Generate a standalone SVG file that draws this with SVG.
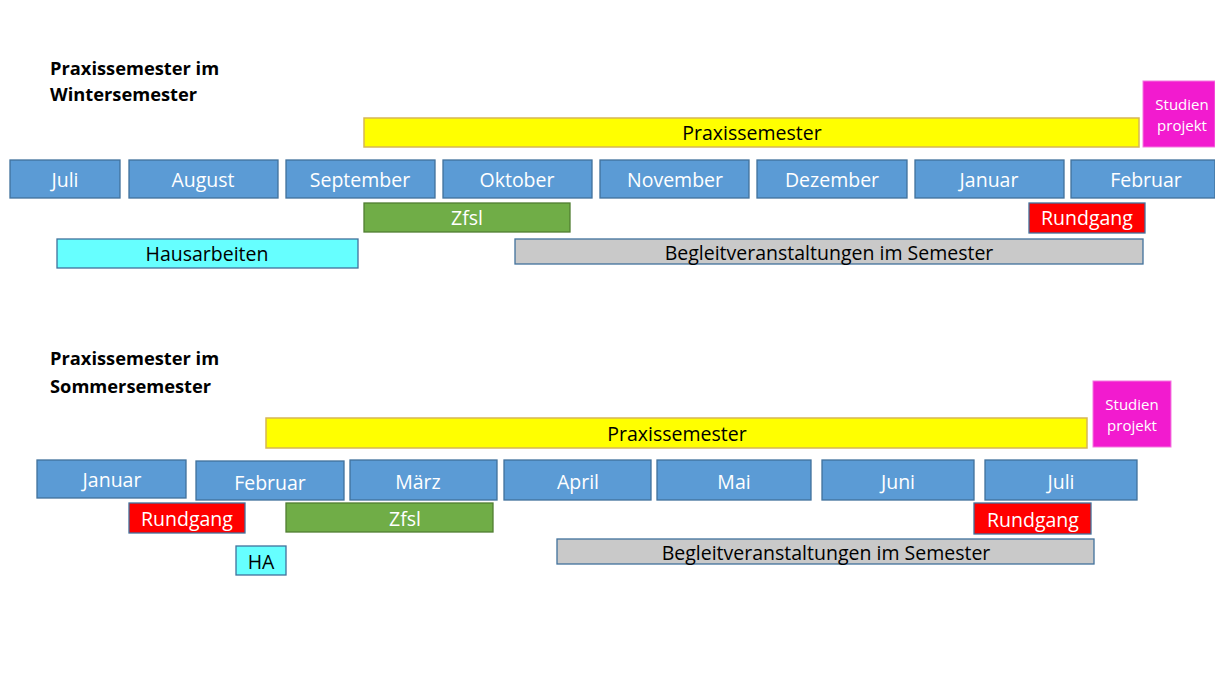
<svg xmlns="http://www.w3.org/2000/svg" width="1215" height="686" viewBox="0 0 1215 686">
<style>
text{font-family:"Open Sans","Liberation Sans",sans-serif;text-anchor:middle}
.t{font-weight:bold;font-size:18.3px;text-anchor:start;fill:#000}
.m rect{fill:#5B9BD5;stroke:#41719C;stroke-width:1.3}
.m text{fill:#fff;font-size:19.5px}
.y rect{fill:#FFFF00;stroke:#D6B656;stroke-width:1.5}
.y text{fill:#000;font-size:19.5px}
.g rect{fill:#70AD47;stroke:#507E32;stroke-width:1.3}
.g text{fill:#fff;font-size:19.5px}
.r rect{fill:#FF0000;stroke:#41719C;stroke-width:1.3}
.r text{fill:#fff;font-size:19.5px}
.c rect{fill:#66FFFF;stroke:#41719C;stroke-width:1.3}
.c text{fill:#000;font-size:19.5px}
.s rect{fill:#C9C9C9;stroke:#41719C;stroke-width:1.3}
.s text{fill:#000;font-size:19.5px}
.p rect{fill:#F21BCF;stroke:#F47ADF;stroke-width:1}
.p text{fill:#fff;font-size:15px}
</style>
<rect width="1215" height="686" fill="#fff"/>
<g id="title-winter"><text class="t" x="50" y="75">Praxissemester im</text><text class="t" x="50" y="101">Wintersemester</text></g>
<g id="w-praxis" class="y"><rect x="364" y="118" width="775" height="29"/><text x="752" y="140">Praxissemester</text></g>
<g id="w-studien" class="p"><rect x="1143" y="81" width="72" height="66"/><text x="1182" y="110">Studien</text><text x="1182" y="131">projekt</text></g>
<g id="w-juli" class="m"><rect x="10" y="160" width="110" height="38"/><text x="65" y="187">Juli</text></g>
<g id="w-august" class="m"><rect x="129" y="160" width="149" height="38"/><text x="203" y="187">August</text></g>
<g id="w-september" class="m"><rect x="286" y="160" width="149" height="38"/><text x="360" y="187">September</text></g>
<g id="w-oktober" class="m"><rect x="443" y="160" width="149" height="38"/><text x="517" y="187">Oktober</text></g>
<g id="w-november" class="m"><rect x="600" y="160" width="149" height="38"/><text x="675" y="187">November</text></g>
<g id="w-dezember" class="m"><rect x="757" y="160" width="150" height="38"/><text x="832" y="187">Dezember</text></g>
<g id="w-januar" class="m"><rect x="915" y="160" width="149" height="38"/><text x="989" y="187">Januar</text></g>
<g id="w-februar" class="m"><rect x="1071" y="160" width="144" height="38"/><text x="1146" y="187">Februar</text></g>
<g id="w-zfsl" class="g"><rect x="364" y="203" width="206" height="29"/><text x="467" y="225">Zfsl</text></g>
<g id="w-rundgang" class="r"><rect x="1029" y="203" width="116" height="30"/><text x="1087" y="225">Rundgang</text></g>
<g id="w-hausarbeiten" class="c"><rect x="57" y="239" width="301" height="29"/><text x="207" y="261">Hausarbeiten</text></g>
<g id="w-begleit" class="s"><rect x="515" y="239" width="628" height="25"/><text x="829" y="260">Begleitveranstaltungen im Semester</text></g>

<g id="title-sommer"><text class="t" x="50" y="365">Praxissemester im</text><text class="t" x="50" y="393">Sommersemester</text></g>
<g id="s-praxis" class="y"><rect x="266" y="418" width="821" height="30"/><text x="677" y="441">Praxissemester</text></g>
<g id="s-studien" class="p"><rect x="1093" y="381" width="78" height="66"/><text x="1132" y="410">Studien</text><text x="1132" y="431">projekt</text></g>
<g id="s-januar" class="m"><rect x="37" y="460" width="149" height="38"/><text x="112" y="487">Januar</text></g>
<g id="s-februar" class="m"><rect x="196" y="461" width="148" height="39"/><text x="270" y="490">Februar</text></g>
<g id="s-maerz" class="m"><rect x="350" y="460" width="147" height="40"/><text x="418" y="489">März</text></g>
<g id="s-april" class="m"><rect x="504" y="460" width="147" height="40"/><text x="578" y="489">April</text></g>
<g id="s-mai" class="m"><rect x="657" y="460" width="154" height="40"/><text x="734" y="489">Mai</text></g>
<g id="s-juni" class="m"><rect x="822" y="460" width="152" height="40"/><text x="898" y="489">Juni</text></g>
<g id="s-juli" class="m"><rect x="985" y="460" width="152" height="40"/><text x="1061" y="489">Juli</text></g>
<g id="s-rundgang1" class="r"><rect x="129" y="503" width="116" height="30"/><text x="187" y="526">Rundgang</text></g>
<g id="s-zfsl" class="g"><rect x="286" y="503" width="207" height="29"/><text x="405" y="526">Zfsl</text></g>
<g id="s-rundgang2" class="r"><rect x="974" y="503" width="117" height="31"/><text x="1033" y="527">Rundgang</text></g>
<g id="s-ha" class="c"><rect x="236" y="546" width="50" height="29"/><text x="261" y="569">HA</text></g>
<g id="s-begleit" class="s"><rect x="557" y="539" width="537" height="25"/><text x="826" y="560">Begleitveranstaltungen im Semester</text></g>
<g id="connectors"/>
</svg>
